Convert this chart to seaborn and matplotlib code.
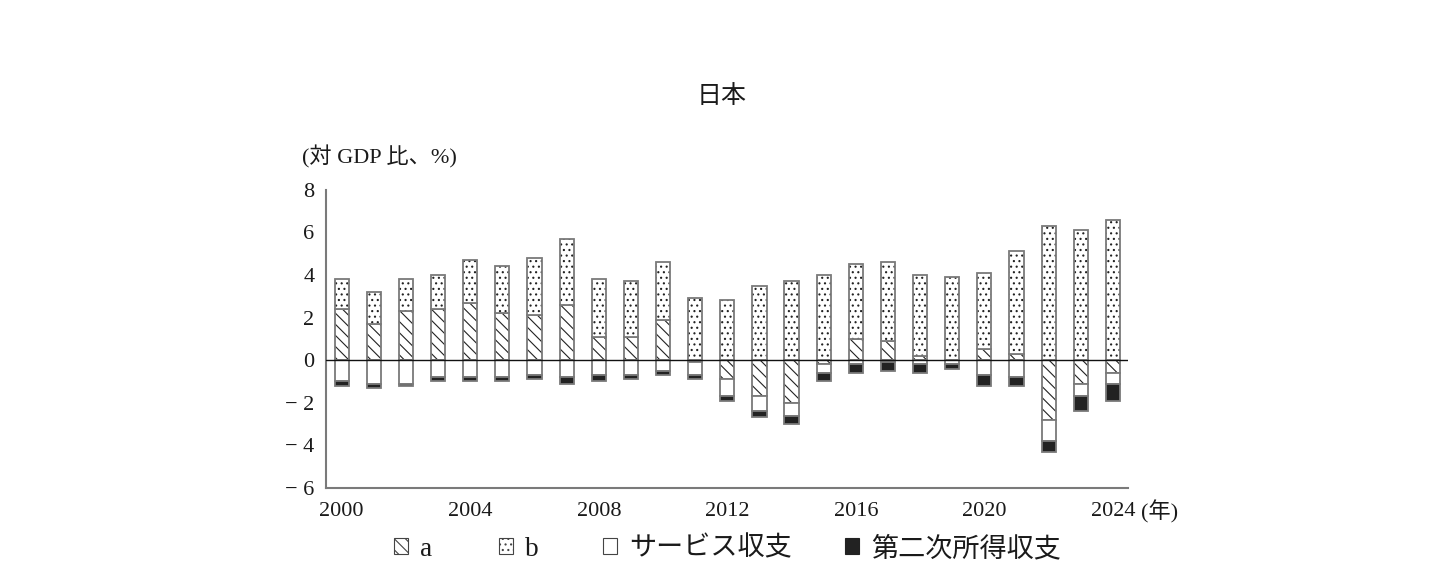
import matplotlib
matplotlib.use("Agg")
import numpy as np
import matplotlib.pyplot as plt
from matplotlib.patches import Patch
import seaborn as sns

# Values (% of GDP)
years = list(range(2000, 2025))
a_vals = [2.4, 1.7, 2.3, 2.4, 2.7, 2.2, 2.1, 2.6, 1.1, 1.1, 1.9, -0.1,
          -0.9, -1.7, -2.0, -0.2, 1.0, 0.9, 0.2, 0.0, 0.5, 0.3, -2.8, -1.1, -0.6]
b_vals = [1.4, 1.5, 1.5, 1.6, 2.0, 2.2, 2.7, 3.1, 2.7, 2.6, 2.7, 2.9,
          2.8, 3.5, 3.7, 4.0, 3.5, 3.7, 3.8, 3.9, 3.6, 4.8, 6.3, 6.1, 6.6]
service_vals = [-1.0, -1.1, -1.1, -0.8, -0.8, -0.8, -0.7, -0.8, -0.7, -0.7, -0.5, -0.6,
                -0.8, -0.7, -0.6, -0.4, -0.2, -0.1, -0.2, -0.2, -0.7, -0.8, -1.0, -0.6, -0.5]
secondary_vals = [-0.2, -0.2, -0.1, -0.2, -0.2, -0.2, -0.2, -0.3, -0.3, -0.2, -0.2, -0.2,
                  -0.2, -0.25, -0.4, -0.4, -0.4, -0.4, -0.4, -0.2, -0.5, -0.4, -0.5, -0.7, -0.8]

legend_labels = ["a", "b", "サービス収支", "第二次所得収支"]
year_ticks = [2000, 2004, 2008, 2012, 2016, 2020, 2024]
y_ticks = [-6, -4, -2, 0, 2, 4, 6, 8]
y_tick_labels = ["\u2212 6", "\u2212 4", "\u2212 2", "0", "2", "4", "6", "8"]

sns.set_theme(style="white")
plt.rcParams["font.family"] = ["Liberation Serif", "Noto Sans CJK JP"]
plt.rcParams["hatch.linewidth"] = 0.8

EDGE = "#7a7a7a"
INK = "#222222"
TEXT = "#1a1a1a"
BAR_W = 0.44
HATCH_A = "\\\\\\"
HATCH_B = "..."

a = np.array(a_vals)
b = np.array(b_vals)
svc = np.array(service_vals)
sec = np.array(secondary_vals)

# stacking: positives above zero, negatives below
a_bottom = np.zeros_like(a)
b_bottom = np.maximum(a, 0)
svc_bottom = np.minimum(a, 0)
sec_bottom = svc_bottom + svc


def draw_layer(ax, heights, bottoms, face, hatch=None):
    # fill (and hatch in dark ink), then a grey outline on top
    sns.barplot(x=years, y=heights, bottom=bottoms, native_scale=True, width=BAR_W,
                color=face, saturation=1, errorbar=None, hatch=hatch,
                edgecolor=INK, linewidth=0, ax=ax)
    sns.barplot(x=years, y=heights, bottom=bottoms, native_scale=True, width=BAR_W,
                fill=False, color=EDGE, errorbar=None, edgecolor=EDGE,
                linewidth=1.3, ax=ax)


fig = plt.figure(figsize=(14.34, 5.87), dpi=100)
ax = fig.add_axes([0.2271, 0.1687, 0.7866 - 0.2271, 0.6768 - 0.1687])

draw_layer(ax, a, a_bottom, "white", hatch=HATCH_A)
draw_layer(ax, b, b_bottom, "white", hatch=HATCH_B)
draw_layer(ax, svc, svc_bottom, "white")
draw_layer(ax, sec, sec_bottom, INK)

ax.axhline(0, color="#111111", linewidth=1.0, zorder=5)

ax.set_xlim(1999.5, 2024.47)
ax.set_ylim(-6, 8)
ax.set_xticks(year_ticks)
ax.set_xticklabels([str(y) for y in year_ticks])
ax.set_yticks(y_ticks)
ax.set_yticklabels(y_tick_labels)
ax.tick_params(axis="both", direction="in", length=7, width=1.2, color=EDGE,
               labelsize=16, labelcolor=TEXT)
ax.tick_params(axis="y", pad=8)
ax.tick_params(axis="x", pad=10)
ax.set_xlabel("")
ax.set_ylabel("")

for side in ["top", "right"]:
    ax.spines[side].set_visible(False)
for side in ["left", "bottom"]:
    ax.spines[side].set_color(EDGE)
    ax.spines[side].set_linewidth(1.5)

fig.text(0.5035, 0.836, "日本", ha="center", va="center", fontsize=18, color=TEXT)
fig.text(0.2106, 0.7325, "(対 GDP 比、%)", ha="left", va="center", fontsize=16, color=TEXT)
fig.text(0.7955, 0.1278, "(年)", ha="left", va="center", fontsize=16, color=TEXT)

handles = [
    Patch(facecolor="white", edgecolor="#444444", hatch=HATCH_A, linewidth=0.8),
    Patch(facecolor="white", edgecolor="#444444", hatch=HATCH_B, linewidth=0.8),
    Patch(facecolor="white", edgecolor="#444444", linewidth=0.8),
    Patch(facecolor=INK, edgecolor=INK, linewidth=0.8),
]
# one small legend per entry so the uneven gaps of the reference can be kept
legend_x = [394, 499, 603, 845]
for h, lab, lx in zip(handles, legend_labels, legend_x):
    leg = fig.legend([h], [lab], loc="center left", bbox_to_anchor=(lx / 1434, 0.0647),
                     frameon=False, fontsize=19.5, handlelength=0.52, handleheight=0.52,
                     handletextpad=0.45, borderpad=0, borderaxespad=0)
    for t in leg.get_texts():
        t.set_color(TEXT)

fig.savefig("out.png", dpi=100)
